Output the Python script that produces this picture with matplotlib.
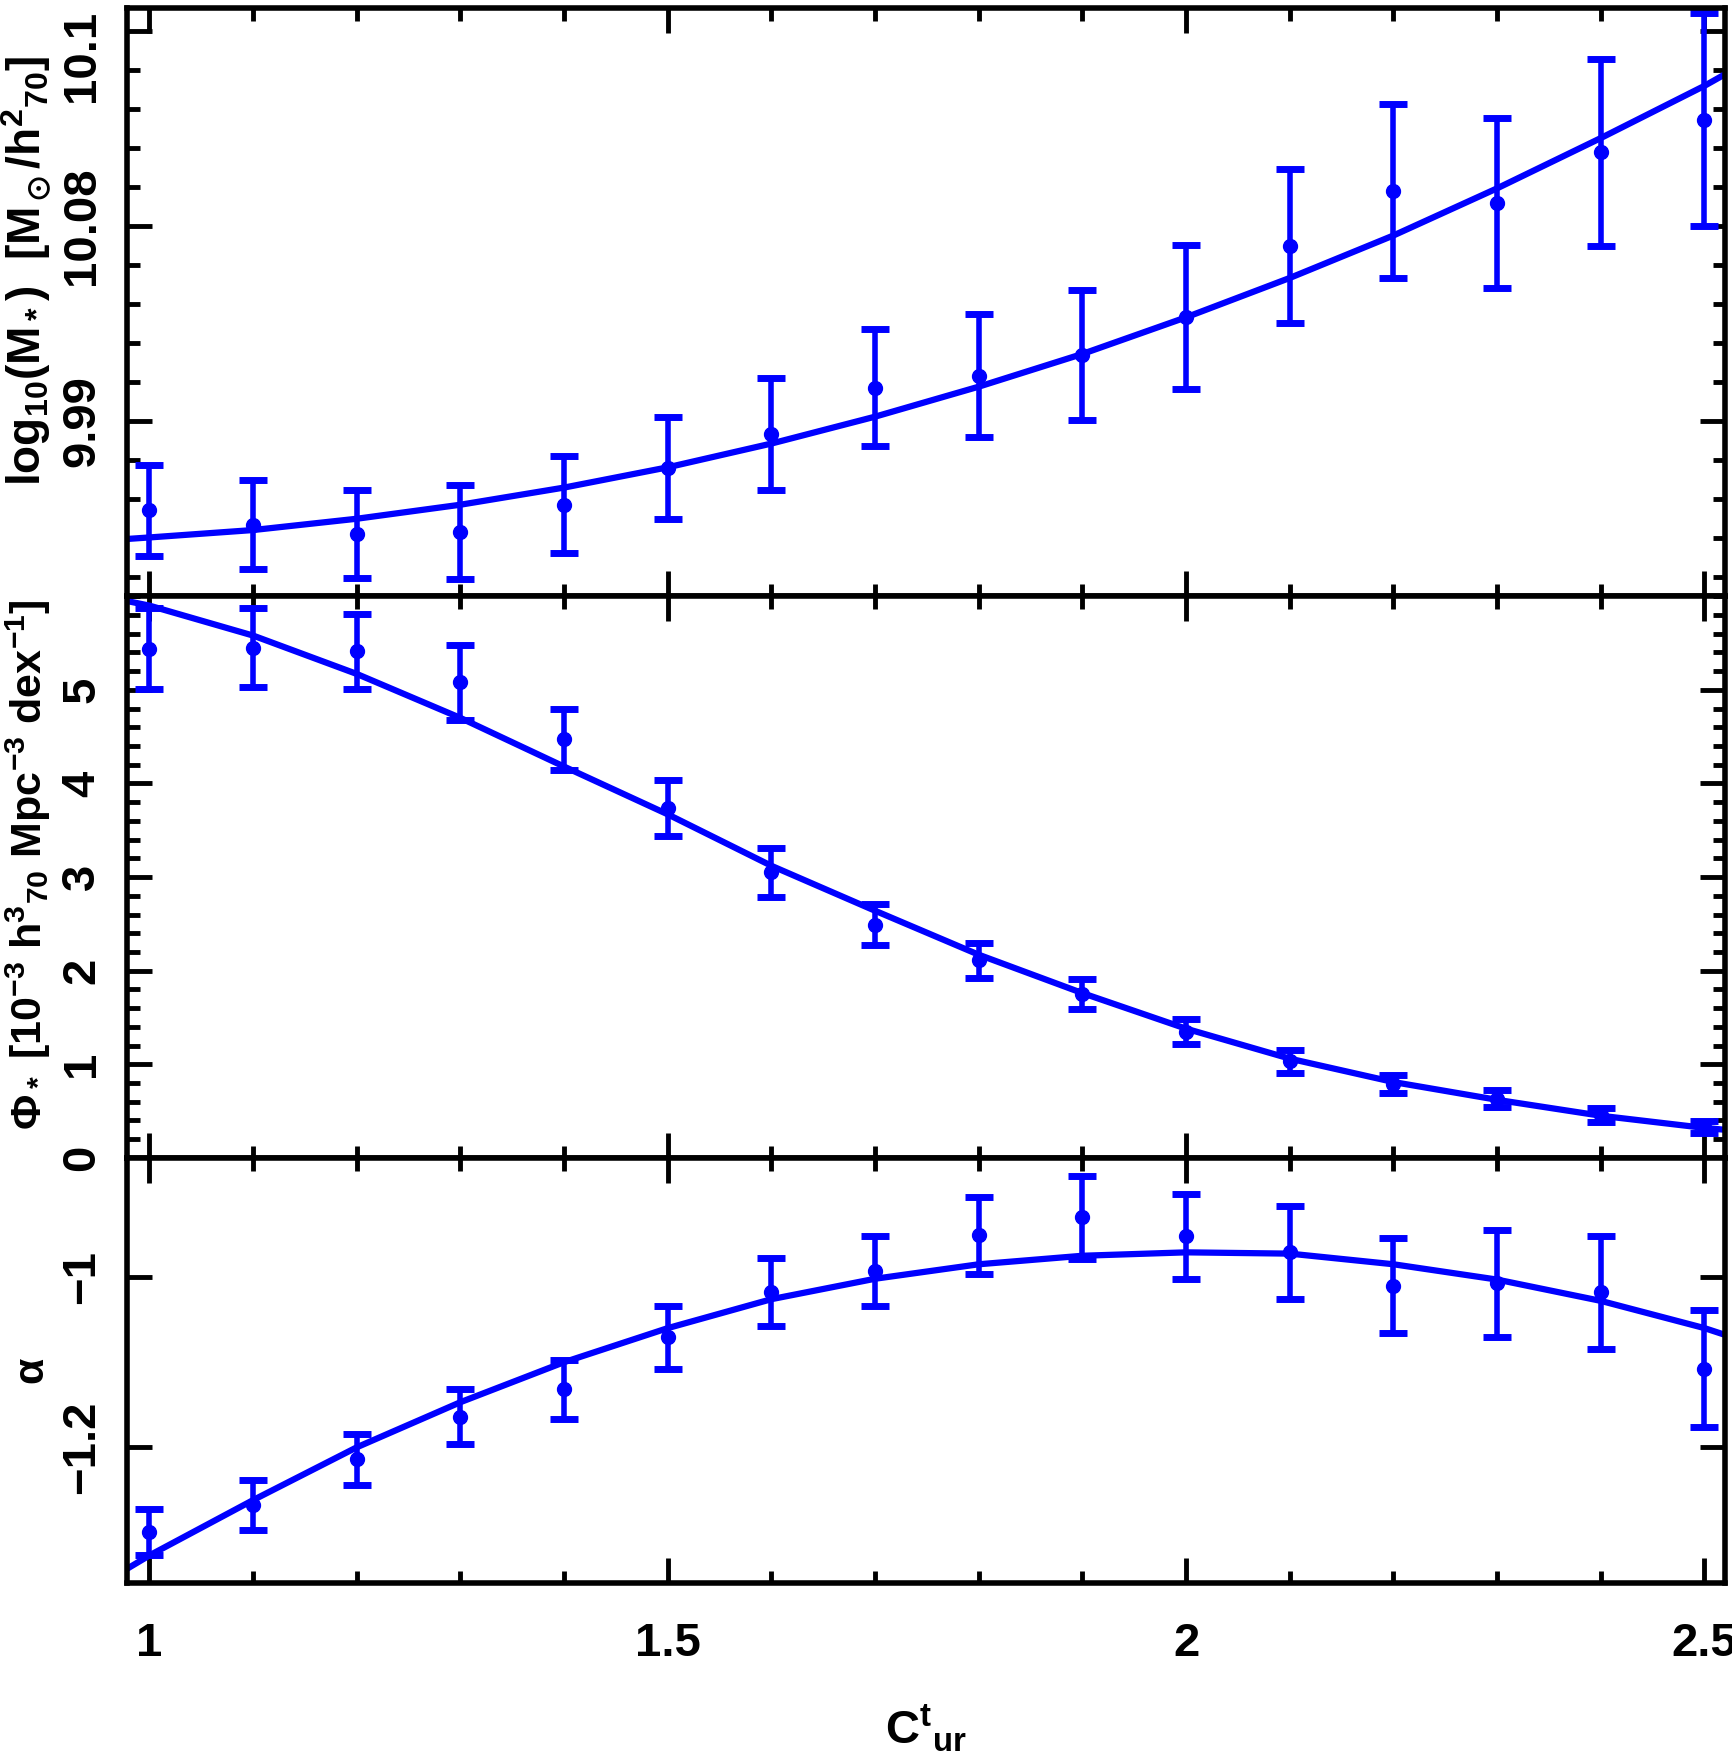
import matplotlib
matplotlib.use('Agg')
import matplotlib.pyplot as plt
from matplotlib.ticker import MultipleLocator, FixedLocator, FixedFormatter

# colour bins and fitted Schechter parameters
cur = [1.0, 1.1, 1.2, 1.3, 1.4, 1.5, 1.6, 1.7, 1.8, 1.9, 2.0, 2.1, 2.2, 2.3, 2.4, 2.5]

mstar = [9.9771, 9.9734, 9.9709, 9.9715, 9.9785, 9.9879, 9.9966, 10.0085,
         10.0116, 10.0169, 10.0266, 10.0449, 10.0590, 10.0559, 10.0689, 10.0773]
mstar_err = [0.0117, 0.0114, 0.0113, 0.0120, 0.0124, 0.0131, 0.0143, 0.0150,
             0.0158, 0.0167, 0.0185, 0.0198, 0.0223, 0.0218, 0.0239, 0.0273]

phi = [5.44, 5.45, 5.41, 5.08, 4.47, 3.74, 3.05, 2.49,
       2.11, 1.75, 1.35, 1.03, 0.79, 0.63, 0.46, 0.33]
phi_err = [0.43, 0.42, 0.40, 0.40, 0.33, 0.30, 0.26, 0.22,
           0.19, 0.16, 0.135, 0.12, 0.10, 0.09, 0.075, 0.06]

alpha = [-1.300, -1.268, -1.214, -1.164, -1.132, -1.071, -1.018, -0.9925,
         -0.951, -0.930, -0.952, -0.971, -1.010, -1.0075, -1.018, -1.1075]
alpha_err = [0.027, 0.029, 0.030, 0.032, 0.0345, 0.037, 0.040, 0.041,
             0.045, 0.049, 0.050, 0.055, 0.056, 0.063, 0.066, 0.069]

# smooth fit curves
fit_x = [0.978, 1.0, 1.1, 1.2, 1.3, 1.4, 1.5, 1.6, 1.7, 1.8, 1.9,
         2.0, 2.1, 2.2, 2.3, 2.4, 2.5, 2.52]
mstar_fit = [9.9697, 9.9701, 9.9720, 9.9749, 9.9785, 9.9829, 9.9881, 9.9942,
             10.0011, 10.0088, 10.0172, 10.0266, 10.0367, 10.0476, 10.0597,
             10.0726, 10.0860, 10.0890]
phi_fit = [5.95, 5.90, 5.58, 5.17, 4.70, 4.18, 3.67, 3.12, 2.64, 2.17, 1.76,
           1.38, 1.06, 0.81, 0.62, 0.45, 0.32, 0.30]
alpha_fit = [-1.343, -1.327, -1.262, -1.200, -1.147, -1.100, -1.060, -1.026,
             -1.002, -0.985, -0.975, -0.971, -0.9725, -0.985, -1.003, -1.028,
             -1.060, -1.068]

x_ticks = [1.0, 1.5, 2.0, 2.5]
x_ticklabels = ['1', '1.5', '2', '2.5']
m_ticks = [10.0, 10.05, 10.1]
m_ticklabels = ['9.99', '10.08', '']
phi_ticks = [0, 1, 2, 3, 4, 5]
phi_ticklabels = ['0', '1', '2', '3', '4', '5']
alpha_ticks = [-1.2, -1.0]
alpha_ticklabels = ['\u22121.2', '\u22121']

plt.rcParams.update({
    'font.family': ['Liberation Sans', 'DejaVu Sans'],
    'font.weight': 'bold',
    'axes.labelweight': 'bold',
    'font.size': 34,
    'axes.labelsize': 31,
    'mathtext.fontset': 'custom',
    'mathtext.rm': 'Liberation Sans:bold',
    'mathtext.it': 'Liberation Sans:bold',
    'mathtext.bf': 'Liberation Sans:bold',
    'mathtext.sf': 'Liberation Sans:bold',
    'mathtext.fallback': 'stixsans',
    'axes.linewidth': 4,
})

fig = plt.figure(figsize=(17.33, 17.61), dpi=100)
L, R = 0.0731, 0.9955
edges = [0.9955, 0.6614, 0.3425, 0.1008]
axes = []
for i in range(3):
    ax = fig.add_axes([L, edges[i + 1], R - L, edges[i] - edges[i + 1]])
    axes.append(ax)
ax_m, ax_p, ax_a = axes

YPAD = 16


def style(ax):
    ax.set_xlim(0.978, 2.52)
    ax.xaxis.set_major_locator(FixedLocator(x_ticks))
    ax.xaxis.set_major_formatter(FixedFormatter(x_ticklabels))
    ax.xaxis.set_minor_locator(MultipleLocator(0.1))
    ax.tick_params(which='both', direction='in', top=True, right=True,
                   width=3.5, color='black')
    ax.tick_params(which='major', length=18)
    ax.tick_params(which='minor', length=9)
    ax.tick_params(axis='y', labelrotation=90, pad=YPAD)
    ax.tick_params(axis='x', pad=28)


def draw(ax, y, err, fit):
    ax.errorbar(cur, y, yerr=err, fmt='o', color='blue', ms=10,
                elinewidth=4, capsize=10, capthick=5)
    ax.plot(fit_x, fit, color='blue', lw=4.5, solid_capstyle='butt')


draw(ax_m, mstar, mstar_err, mstar_fit)
draw(ax_p, phi, phi_err, phi_fit)
draw(ax_a, alpha, alpha_err, alpha_fit)

for ax in axes:
    style(ax)

ax_m.set_ylim(9.955, 10.106)
ax_m.yaxis.set_major_locator(FixedLocator(m_ticks))
ax_m.yaxis.set_major_formatter(FixedFormatter(m_ticklabels))
ax_m.yaxis.set_minor_locator(MultipleLocator(0.01))
trans = ax_m.get_yaxis_text1_transform(YPAD)[0]
ax_m.text(0, 10.1055, '10.1', transform=trans, rotation=90,
          ha='right', va='top')

ax_p.set_ylim(0, 6)
ax_p.yaxis.set_major_locator(FixedLocator(phi_ticks))
ax_p.yaxis.set_major_formatter(FixedFormatter(phi_ticklabels))
ax_p.yaxis.set_minor_locator(MultipleLocator(0.2))

ax_a.set_ylim(-1.36, -0.86)
ax_a.yaxis.set_major_locator(FixedLocator(alpha_ticks))
ax_a.yaxis.set_major_formatter(FixedFormatter(alpha_ticklabels))

for ax in axes:
    for lbl in ax.get_yticklabels():
        lbl.set_va('center')

ax_m.tick_params(labelbottom=False)
ax_p.tick_params(labelbottom=False)

ax_m.set_ylabel(r'log$_{10}$(M$_*$)  [M$_\odot$/h$^2$$_{70}$]', fontsize=33)
ax_m.yaxis.set_label_coords(-0.046, 0.553)
ax_p.set_ylabel(r'$\Phi_*$ [10$^{-3}$ h$^3$$_{70}$ Mpc$^{-3}$ dex$^{-1}$]')
ax_p.yaxis.set_label_coords(-0.046, 0.522)
ax_a.set_ylabel(r'$\alpha$')
ax_a.yaxis.set_label_coords(-0.046, 0.5)

ax_a.set_xlabel(r'C$^t$$_{ur}$', fontsize=34)
ax_a.xaxis.set_label_coords(0.5, -0.28)

fig.savefig('out.png', dpi=100)
